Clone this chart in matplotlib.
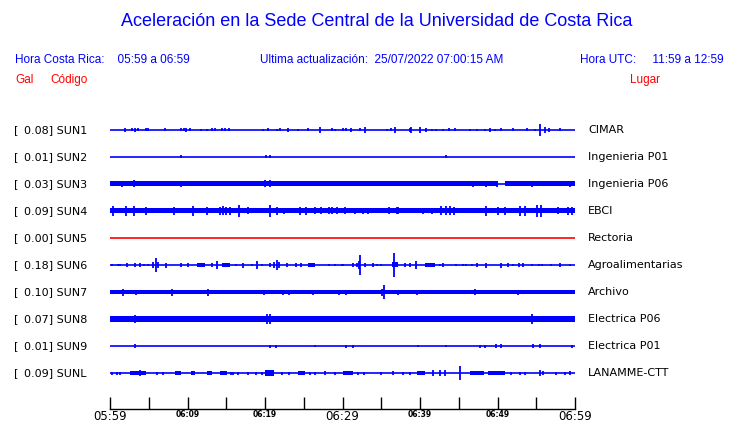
import matplotlib
matplotlib.use("Agg")
import matplotlib.pyplot as plt

# ------------------------------------
# data
# ------------------------------------
codes = ["SUN1", "SUN2", "SUN3", "SUN4", "SUN5", "SUN6", "SUN7", "SUN8", "SUN9", "SUNL"]
peaks = [0.08, 0.01, 0.03, 0.09, 0.00, 0.18, 0.10, 0.07, 0.01, 0.09]
places = ["CIMAR", "Ingenieria P01", "Ingenieria P06", "EBCI", "Rectoria",
          "Agroalimentarias", "Archivo", "Electrica P06", "Electrica P01", "LANAMME-CTT"]
tick_labels = ["05:59", "06:09", "06:19", "06:29", "06:39", "06:49", "06:59"]

# continuous noise bands: (start min, end min, half height px)
bands = {
    "SUN3": [(0, 50.1, 2.5), (51.0, 60, 2.5)],
    "SUN4": [(0, 60, 2.5)],
    "SUN6": [(11.2, 12.3, 2), (14.4, 15.5, 2), (25.6, 26.4, 2), (36.4, 37.2, 2.5), (40.6, 41.9, 2)],
    "SUN7": [(0, 60, 1.6)],
    "SUN8": [(0, 60, 2.6), (48.0, 53.3, 3)],
    "SUNL": [(2.6, 4.7, 2), (8.4, 9.2, 2), (10.5, 11.0, 2), (12.5, 13.1, 2), (14.2, 15.1, 2),
             (20.0, 21.1, 2.5), (24.3, 25.2, 2), (30.1, 31.4, 2), (39.6, 40.6, 2),
             (46.5, 48.2, 2), (48.8, 51.0, 2)],
}

# single bursts: (minute, half height px)
spikes = {
    "SUN1": [(1.9, 2), (2.8, 1.5), (3.2, 2), (3.6, 1.5), (4.7, 1.5), (4.9, 1.5), (7.1, 1.5),
             (9.2, 1.5), (9.5, 1.5), (9.8, 2), (10.3, 1.5), (11.8, 1), (12.5, 1), (13.2, 1.5),
             (13.5, 1.5), (14.5, 1.5), (14.8, 1.5), (15.4, 1.5), (19.7, 1), (20.4, 1.5),
             (21.5, 1), (21.9, 1.5), (23.0, 2), (24.3, 1), (25.5, 1.5), (27.1, 3), (28.6, 1.5),
             (29.0, 1), (30.1, 1.5), (30.5, 1.5), (31.1, 2), (32.2, 1.5), (32.9, 3), (35.7, 1),
             (36.3, 1.5), (36.8, 3), (38.7, 2), (38.9, 3), (40.0, 3), (40.8, 2), (41.5, 1),
             (42.1, 1), (43.0, 1), (43.8, 1.5), (44.5, 1.5), (46.5, 1), (47.3, 1), (48.4, 1),
             (49.0, 2), (49.7, 1), (50.5, 1.5), (52.0, 1.5), (53.8, 1.5), (54.8, 1),
             (55.5, 6), (56.1, 3), (56.6, 2), (58.1, 1.5)],
    "SUN2": [(9.2, 1.5), (20.1, 1.5), (20.7, 1.5), (43.4, 1.5)],
    "SUN3": [(1.6, 3), (3.1, 3.5), (9.2, 3), (20.0, 3.5), (20.7, 3.5), (46.9, 3),
             (48.5, 3), (49.9, 3), (54.5, 3), (59.3, 3)],
    "SUN4": [(0.4, 5), (2.0, 5), (3.1, 5), (4.7, 4), (8.2, 4), (10.7, 5), (12.5, 4),
             (14.2, 4), (14.6, 4.5), (15.0, 4), (15.5, 4), (16.6, 6), (17.8, 3.5),
             (20.7, 6), (21.5, 4), (22.4, 3), (24.5, 4), (25.3, 4), (26.5, 3.5), (27.2, 3.5),
             (28.3, 3.5), (28.6, 3.5), (29.3, 3.5), (30.3, 3.5), (31.6, 3), (32.7, 3),
             (33.3, 3), (36.0, 3.5), (37.0, 3.5), (37.2, 3.5), (40.4, 3), (41.5, 3),
             (42.7, 4.5), (43.4, 4.5), (43.9, 4.5), (44.4, 4), (48.5, 5), (50.0, 4),
             (51.0, 4), (52.9, 5), (53.6, 5), (55.1, 6), (55.6, 6), (57.8, 3.5), (59.1, 4),
             (59.6, 4)],
    "SUN6": [(0.2, 1.5), (1.0, 1.5), (1.3, 1.5), (2.2, 2), (3.2, 2), (3.9, 2), (4.4, 1.5),
             (4.9, 1.5), (5.9, 7), (5.6, 3), (6.2, 3), (7.2, 2.5), (9.2, 2), (10.0, 2),
             (13.1, 2), (13.8, 4), (16.3, 1.5), (17.2, 2.5), (18.3, 1.5), (19.0, 3.5),
             (19.6, 1.5), (20.6, 2), (21.5, 4.5), (21.2, 3), (21.8, 3), (22.8, 2), (24.0, 2),
             (24.6, 2), (28.3, 1.5), (29.0, 1.5), (30.0, 1.5), (29.9, 1.5), (31.4, 2),
             (31.9, 2), (32.3, 10), (32.1, 4), (32.9, 2), (33.9, 2), (34.5, 1.5), (35.0, 1.5),
             (36.7, 12), (38.1, 2), (38.7, 2), (39.5, 4), (42.6, 1.5), (43.0, 2), (44.7, 1.5),
             (45.5, 1.5), (45.9, 1.5), (46.7, 1.5), (47.4, 2), (48.5, 2.5), (50.5, 2.5),
             (51.4, 2), (52.0, 1.5), (52.8, 2), (53.3, 2), (54.5, 1.5), (55.3, 1.5),
             (55.8, 1.5), (56.9, 1.5), (58.1, 2), (59.4, 1.5)],
    "SUN7": [(1.7, 3.5), (3.4, 2.5), (8.0, 3.5), (12.7, 3.5), (19.9, 2.5), (22.3, 2.5),
             (23.1, 2.5), (26.2, 2.5), (29.5, 2.5), (30.5, 2.5), (35.3, 7), (35.1, 3.5),
             (37.2, 2.5), (39.6, 2.5), (47.1, 3), (52.7, 2.5), (54.5, 2)],
    "SUN8": [(3.2, 4), (5.6, 3), (8.6, 3), (11.1, 3), (14.2, 3), (15.4, 3), (17.8, 3),
             (20.2, 5), (20.7, 5), (22.4, 3), (24.2, 3), (24.5, 3), (26.5, 3), (27.7, 3),
             (29.9, 3), (31.2, 3), (37.6, 3), (39.9, 3), (40.8, 3), (42.6, 3), (43.4, 3),
             (44.9, 3), (46.2, 3), (54.5, 5), (55.6, 3), (57.6, 3), (59.4, 3)],
    "SUN9": [(3.2, 2), (20.7, 1.5), (21.4, 1.5), (26.5, 1), (30.5, 1.5), (31.4, 1.5),
             (39.8, 1), (43.4, 1), (47.8, 1.5), (48.4, 1.5), (49.8, 2), (50.4, 2),
             (54.6, 2), (55.5, 2), (59.6, 1.5)],
    "SUNL": [(0.2, 1.5), (0.9, 1.5), (1.3, 1.5), (3.9, 3), (6.0, 1.5), (6.9, 1.5),
             (15.6, 1.5), (15.9, 1.5), (16.5, 1.5), (17.8, 1.5), (18.9, 1.5), (19.6, 1.5),
             (20.6, 3), (22.2, 1.5), (23.1, 1.5), (25.8, 1.5), (26.5, 1.5), (27.7, 2),
             (29.0, 1.5), (32.0, 1.5), (32.8, 1.5), (35.0, 1.5), (36.5, 2), (37.8, 1.5),
             (38.7, 1.5), (41.7, 2.5), (42.6, 2.5), (43.2, 2.5), (45.2, 7), (51.8, 1.5),
             (52.9, 1.5), (53.5, 1.5), (55.5, 3), (55.9, 2), (57.6, 1.5), (58.7, 1.5),
             (59.4, 2)],
}

BLUE = "#0000ff"
RED = "#ff0000"
W, H = 740, 423
PX = 27.0  # pixels between traces

fig = plt.figure(figsize=(W / 100, H / 100), dpi=100)
ax = fig.add_axes([110 / W, 1 - 409 / H, 465 / W, (409 - 118) / H])
ax.set_xlim(0, 60)
ax.set_ylim((409 - 130) / PX, (118 - 130) / PX)

for i, code in enumerate(codes):
    col = RED if code == "SUN5" else BLUE
    ax.plot([0, 60], [i, i], color=col, lw=1.2, solid_capstyle="butt")
    for t0, t1, h in bands.get(code, []):
        ax.fill_between([t0, t1], i - h / PX, i + h / PX, color=col, lw=0)
    sp = spikes.get(code, [])
    if sp:
        ts = [s[0] for s in sp]
        hs = [s[1] / PX for s in sp]
        ax.vlines(ts, [i - h for h in hs], [i + h for h in hs], color=col, lw=1.3)

    y_fig = 1 - (130 + PX * i) / H
    fig.text(14 / W, y_fig, "[", fontsize=8, va="center", ha="left")
    fig.text(87 / W, y_fig, "%.2f] %s" % (peaks[i], code), fontsize=8, va="center", ha="right")
    fig.text(588 / W, y_fig, places[i], fontsize=8, va="center", ha="left")

# time axis
for s in ["top", "left", "right"]:
    ax.spines[s].set_visible(False)
ax.spines["bottom"].set_linewidth(1.0)
ax.set_yticks([])
ax.set_xticks(range(0, 61, 5))
ax.set_xticklabels([tick_labels[k // 10] if k % 10 == 0 else "" for k in range(0, 61, 5)])
ax.tick_params(axis="x", direction="in", length=9, width=1.0, pad=1, labelsize=5.5)
for lab in ax.get_xticklabels():
    if lab.get_text() in ("05:59", "06:29", "06:59"):
        lab.set_fontsize(8.5)
    else:
        lab.set_fontweight("bold")

# header texts
hf = "Liberation Sans"
fig.text(377 / W, 1 - 22 / H, "Aceleración en la Sede Central de la Universidad de Costa Rica",
         color=BLUE, fontsize=13, family=hf, ha="center", va="center")
fig.text(15 / W, 1 - 60 / H, "Hora Costa Rica:    05:59 a 06:59", color=BLUE, fontsize=8.5,
         family=hf, va="center")
fig.text(260 / W, 1 - 60 / H, "Ultima actualización:  25/07/2022 07:00:15 AM", color=BLUE,
         fontsize=8.5, family=hf, va="center")
fig.text(724 / W, 1 - 60 / H, "Hora UTC:     11:59 a 12:59", color=BLUE, fontsize=8.5,
         family=hf, va="center", ha="right")
fig.text(15 / W, 1 - 80 / H, "Gal", color=RED, fontsize=8.5, family=hf, va="center")
fig.text(50 / W, 1 - 80 / H, "Código", color=RED, fontsize=8.5, family=hf, va="center")
fig.text(630 / W, 1 - 80 / H, "Lugar", color=RED, fontsize=8.5, family=hf, va="center")

fig.savefig("out.png", dpi=100)
